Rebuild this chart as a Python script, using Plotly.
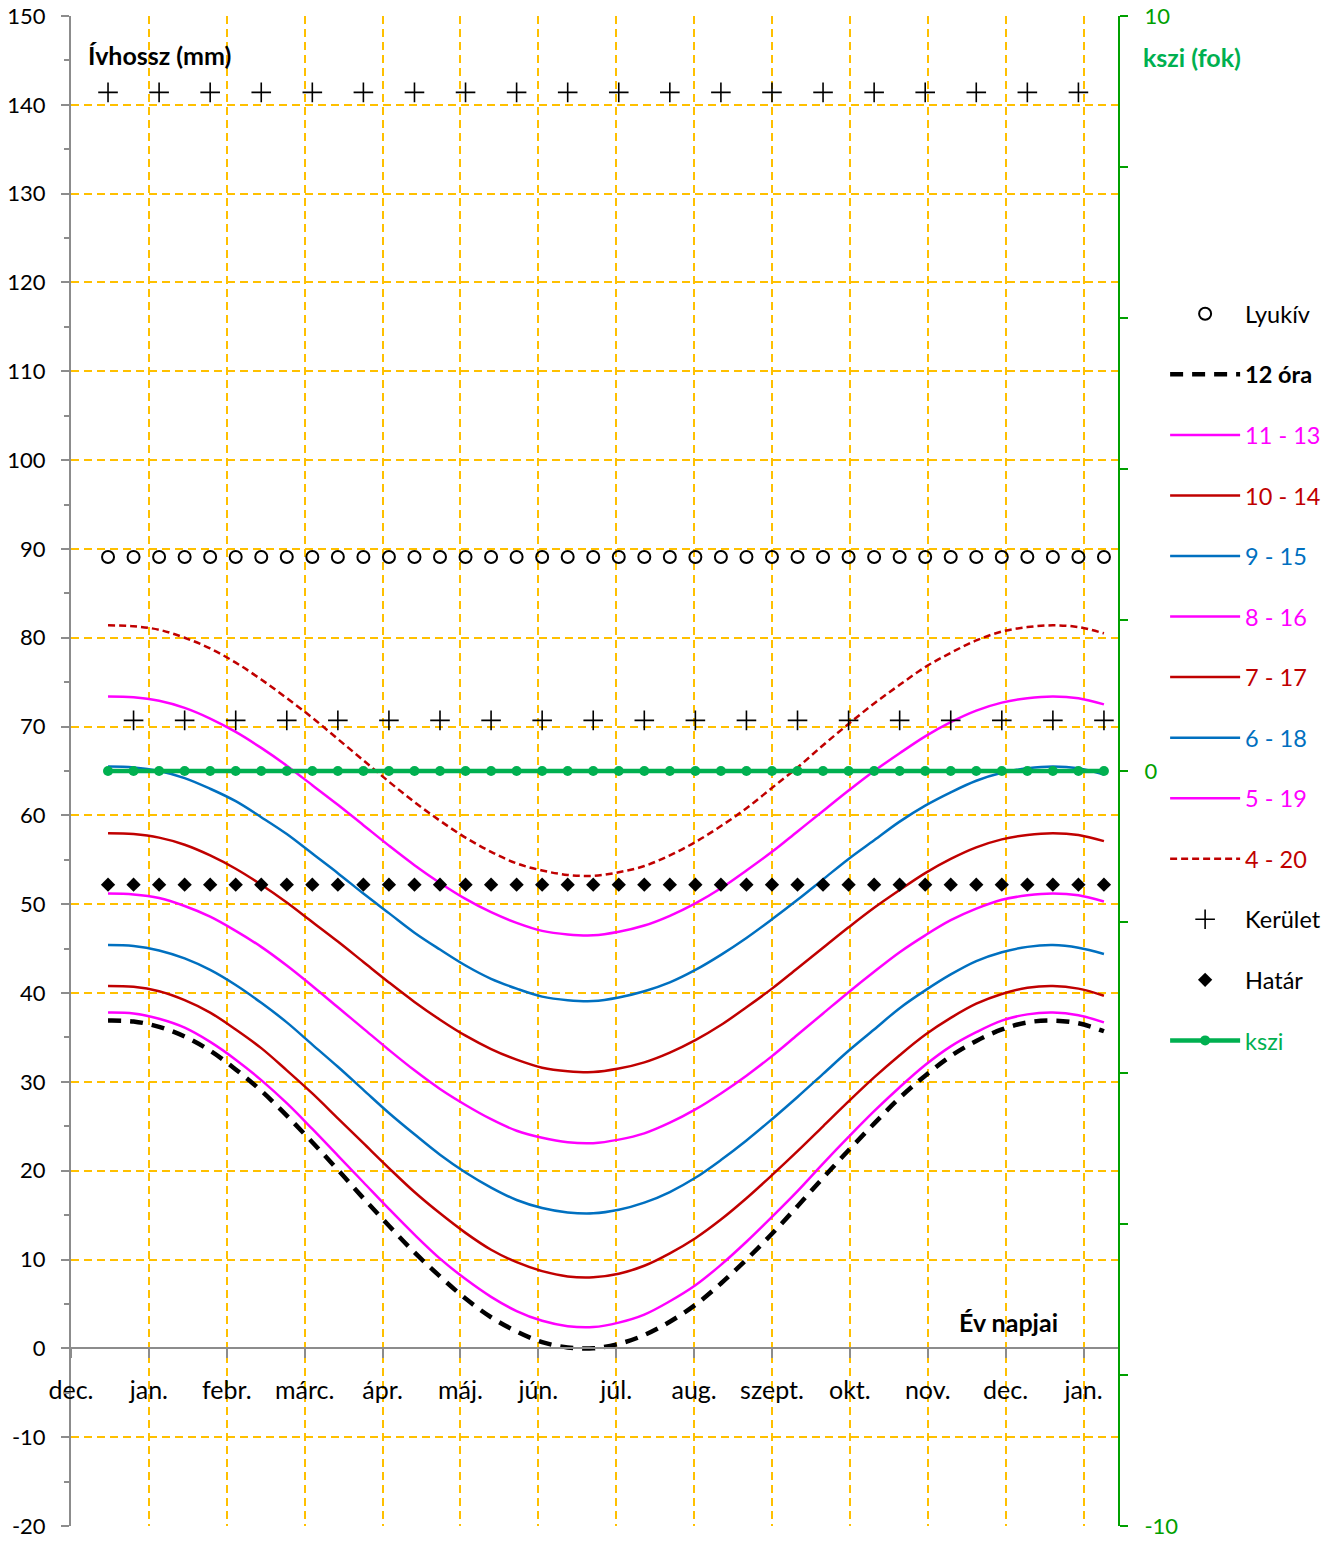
import plotly.graph_objects as go

# ---------------- data ----------------
DAYS = [-16, -6, 4, 14, 24, 34, 44, 54, 64, 74, 84, 94, 104, 114, 124, 134, 144, 154, 164, 174,
        184, 194, 204, 214, 224, 234, 244, 254, 264, 274, 284, 294, 304, 314, 324, 334, 344, 354, 364, 374]

MONTH_POS = [-30.5, 0, 30.5, 61, 91.5, 122, 152.5, 183, 213.5, 244, 274.5, 305, 335.5, 366]
MONTH_LABELS = ['dec.', 'jan.', 'febr.', 'márc.', 'ápr.', 'máj.', 'jún.', 'júl.', 'aug.',
                'szept.', 'okt.', 'nov.', 'dec.', 'jan.']

Y_TICKS = [-20, -10, 0, 10, 20, 30, 40, 50, 60, 70, 80, 90, 100, 110, 120, 130, 140, 150]
Y_LABELS = ['-20', '-10', '0', '10', '20', '30', '40', '50', '60', '70', '80', '90',
            '100', '110', '120', '130', '140', '150']

LYUKIV = [89.1, 89.1, 89.1, 89.1, 89.1, 89.1, 89.1, 89.1, 89.1, 89.1,
          89.1, 89.1, 89.1, 89.1, 89.1, 89.1, 89.1, 89.1, 89.1, 89.1,
          89.1, 89.1, 89.1, 89.1, 89.1, 89.1, 89.1, 89.1, 89.1, 89.1,
          89.1, 89.1, 89.1, 89.1, 89.1, 89.1, 89.1, 89.1, 89.1, 89.1]

ORA_12 = [36.9, 36.8, 36.2, 35.1, 33.5, 31.4, 29.0, 26.2, 23.2, 20.1,
          16.9, 13.8, 10.8, 8.1, 5.6, 3.5, 1.9, 0.7, 0.1, 0.0,
          0.5, 1.5, 3.0, 4.9, 7.3, 10.0, 12.9, 16.0, 19.2, 22.3,
          25.3, 28.2, 30.7, 32.9, 34.6, 35.9, 36.7, 36.9, 36.6, 35.7]

ORA_11_13 = [37.8, 37.7, 37.1, 36.1, 34.5, 32.5, 30.2, 27.6, 24.7, 21.7,
             18.7, 15.7, 12.8, 10.1, 7.8, 5.8, 4.2, 3.1, 2.5, 2.4,
             2.9, 3.8, 5.3, 7.1, 9.4, 12.0, 14.8, 17.7, 20.8, 23.8,
             26.7, 29.4, 31.9, 34.0, 35.6, 36.9, 37.6, 37.8, 37.5, 36.7]

ORA_10_14 = [40.8, 40.7, 40.2, 39.2, 37.8, 35.9, 33.8, 31.3, 28.7, 25.9,
             23.1, 20.3, 17.6, 15.2, 13.0, 11.1, 9.7, 8.7, 8.1, 8.0,
             8.4, 9.3, 10.7, 12.4, 14.5, 16.9, 19.5, 22.2, 25.0, 27.8,
             30.5, 33.0, 35.3, 37.2, 38.8, 39.9, 40.6, 40.8, 40.5, 39.7]

ORA_9_15 = [45.4, 45.3, 44.8, 43.9, 42.6, 40.9, 38.9, 36.7, 34.2, 31.7,
            29.1, 26.5, 24.1, 21.8, 19.8, 18.1, 16.7, 15.8, 15.3, 15.2,
            15.6, 16.4, 17.6, 19.2, 21.2, 23.4, 25.8, 28.3, 30.9, 33.5,
            35.9, 38.3, 40.3, 42.1, 43.6, 44.6, 45.2, 45.4, 45.1, 44.4]

ORA_8_16 = [51.2, 51.1, 50.7, 49.8, 48.6, 47.0, 45.2, 43.1, 40.8, 38.4,
            36.0, 33.6, 31.3, 29.2, 27.4, 25.8, 24.5, 23.7, 23.2, 23.1,
            23.5, 24.2, 25.4, 26.9, 28.7, 30.7, 32.9, 35.3, 37.7, 40.1,
            42.4, 44.6, 46.5, 48.2, 49.5, 50.5, 51.0, 51.2, 51.0, 50.3]

ORA_7_17 = [58.0, 57.9, 57.5, 56.7, 55.5, 54.0, 52.2, 50.2, 48.0, 45.8,
            43.5, 41.2, 39.0, 37.0, 35.2, 33.7, 32.5, 31.6, 31.2, 31.1,
            31.5, 32.2, 33.3, 34.7, 36.4, 38.4, 40.5, 42.8, 45.1, 47.4,
            49.6, 51.6, 53.5, 55.1, 56.4, 57.3, 57.8, 58.0, 57.8, 57.1]

ORA_6_18 = [65.5, 65.4, 65.0, 64.2, 63.0, 61.6, 59.8, 57.9, 55.7, 53.5,
            51.2, 49.0, 46.8, 44.9, 43.1, 41.6, 40.5, 39.6, 39.2, 39.1,
            39.5, 40.2, 41.2, 42.6, 44.3, 46.2, 48.3, 50.5, 52.8, 55.1,
            57.2, 59.3, 61.1, 62.6, 63.9, 64.8, 65.3, 65.5, 65.3, 64.6]

ORA_5_19 = [73.4, 73.3, 72.9, 72.1, 70.9, 69.4, 67.6, 65.6, 63.4, 61.2,
            58.9, 56.6, 54.4, 52.4, 50.6, 49.1, 47.9, 47.0, 46.6, 46.5,
            46.9, 47.6, 48.7, 50.1, 51.8, 53.8, 55.9, 58.2, 60.5, 62.8,
            65.0, 67.0, 68.9, 70.5, 71.8, 72.7, 73.2, 73.4, 73.2, 72.5]

ORA_4_20 = [81.4, 81.3, 80.9, 80.0, 78.8, 77.2, 75.3, 73.2, 71.0, 68.6,
            66.2, 63.8, 61.5, 59.4, 57.5, 55.9, 54.6, 53.8, 53.3, 53.2,
            53.6, 54.3, 55.5, 57.0, 58.8, 60.8, 63.1, 65.4, 67.9, 70.3,
            72.6, 74.7, 76.7, 78.3, 79.7, 80.7, 81.2, 81.4, 81.2, 80.5]

KERULET = [141.4, 70.7, 141.4, 70.7, 141.4, 70.7, 141.4, 70.7, 141.4, 70.7,
           141.4, 70.7, 141.4, 70.7, 141.4, 70.7, 141.4, 70.7, 141.4, 70.7,
           141.4, 70.7, 141.4, 70.7, 141.4, 70.7, 141.4, 70.7, 141.4, 70.7,
           141.4, 70.7, 141.4, 70.7, 141.4, 70.7, 141.4, 70.7, 141.4, 70.7]

HATAR = [52.2, 52.2, 52.2, 52.2, 52.2, 52.2, 52.2, 52.2, 52.2, 52.2,
         52.2, 52.2, 52.2, 52.2, 52.2, 52.2, 52.2, 52.2, 52.2, 52.2,
         52.2, 52.2, 52.2, 52.2, 52.2, 52.2, 52.2, 52.2, 52.2, 52.2,
         52.2, 52.2, 52.2, 52.2, 52.2, 52.2, 52.2, 52.2, 52.2, 52.2]

KSZI = [0, 0, 0, 0, 0, 0, 0, 0, 0, 0,
        0, 0, 0, 0, 0, 0, 0, 0, 0, 0,
        0, 0, 0, 0, 0, 0, 0, 0, 0, 0,
        0, 0, 0, 0, 0, 0, 0, 0, 0, 0]

Y2_TICKS = [-10, -8, -6, -4, -2, 0, 2, 4, 6, 8, 10]
Y2_LABELS = ['-10', '', '', '', '', '0', '', '', '', '', '10']

# ---------------- styles ----------------
MAGENTA = '#FF00FF'
DARKRED = '#C00000'
BLUE = '#0070C0'
GREEN = '#00B050'
AXGREEN = '#00A000'
GRID = '#FFC000'
AXGRAY = '#8C8C8C'
FONT = 'Lato'

TOP, BOTTOM = 16, 1526          # plot-area edges in page pixels
PH = BOTTOM - TOP


def lbl(text, color):
    return f'<span style="color:{color}">{text}</span>'


fig = go.Figure()

fig.add_trace(go.Scatter(x=DAYS, y=LYUKIV, mode='markers', name='Lyukív', legendgroup='a',
                         marker=dict(symbol='circle-open', size=12, color='black',
                                     line=dict(width=2, color='black'))))
fig.add_trace(go.Scatter(x=DAYS, y=ORA_12, mode='lines', name='<b>12 óra</b>', legendgroup='b',
                         line=dict(color='black', width=4.5, dash='13px,9px', shape='spline')))

curves = [
    ('11 - 13', ORA_11_13, MAGENTA, None),
    ('10 - 14', ORA_10_14, DARKRED, None),
    ('9 - 15', ORA_9_15, BLUE, None),
    ('8 - 16', ORA_8_16, MAGENTA, None),
    ('7 - 17', ORA_7_17, DARKRED, None),
    ('6 - 18', ORA_6_18, BLUE, None),
    ('5 - 19', ORA_5_19, MAGENTA, None),
    ('4 - 20', ORA_4_20, DARKRED, '7px,4px'),
]
for i, (name, vals, col, dash) in enumerate(curves):
    fig.add_trace(go.Scatter(x=DAYS, y=vals, mode='lines', name=lbl(name, col),
                             legendgroup=f'c{i}',
                             line=dict(color=col, width=2.5, dash=dash, shape='spline')))

fig.add_trace(go.Scatter(x=DAYS, y=KERULET, mode='markers', name='Kerület', legendgroup='k',
                         marker=dict(symbol='cross-thin', size=14, color='black',
                                     line=dict(width=1.6, color='black'))))
fig.add_trace(go.Scatter(x=DAYS, y=HATAR, mode='markers', name='Határ', legendgroup='h',
                         marker=dict(symbol='diamond', size=11, color='black')))
fig.add_trace(go.Scatter(x=DAYS, y=KSZI, mode='lines+markers', name=lbl('kszi', GREEN),
                         legendgroup='z', yaxis='y2',
                         line=dict(color=GREEN, width=4.5),
                         marker=dict(symbol='circle', size=10, color=GREEN)))

fig.update_layout(
    width=1339, height=1541,
    margin=dict(l=71, r=221, t=TOP, b=1541 - BOTTOM),
    paper_bgcolor='white', plot_bgcolor='white',
    font=dict(family=FONT, size=22, color='black'),
    showlegend=True,
    legend=dict(x=1.045, y=1 - (292 - TOP) / PH, xanchor='left', yanchor='top',
                tracegroupgap=27, itemwidth=70, bgcolor='rgba(0,0,0,0)',
                font=dict(family=FONT, size=23.5, color='black')),
    xaxis=dict(range=[-30.5, 379.5], tickmode='array', tickvals=MONTH_POS, ticktext=MONTH_LABELS,
               showgrid=True, gridcolor=GRID, gridwidth=2, griddash='8px,5px',
               anchor='free', position=20 / 170, automargin=False,
               showline=True, linecolor=AXGRAY, linewidth=2,
               ticks='outside', ticklen=9, tickwidth=2, tickcolor=AXGRAY,
               ticklabelstandoff=11, zeroline=False,
               tickfont=dict(family=FONT, size=25, color='black')),
    yaxis=dict(range=[-20, 150], tickmode='array', tickvals=Y_TICKS, ticktext=Y_LABELS,
               showgrid=True, gridcolor=GRID, gridwidth=2, griddash='8px,5px',
               showline=True, linecolor=AXGRAY, linewidth=2, automargin=False,
               ticks='outside', ticklen=8, tickwidth=2, tickcolor=AXGRAY,
               minor=dict(dtick=5, ticks='outside', ticklen=5, tickwidth=2, tickcolor=AXGRAY,
                          showgrid=False),
               ticklabelstandoff=11, zeroline=False, ticklabeloverflow='allow',
               tickfont=dict(family=FONT, size=22, color='black')),
    yaxis2=dict(range=[-10, 10], overlaying='y', side='right', anchor='x',
                tickmode='array', tickvals=Y2_TICKS, ticktext=Y2_LABELS,
                showgrid=False, zeroline=False, automargin=False,
                showline=True, linecolor=AXGREEN, linewidth=2,
                ticks='outside', ticklen=8, tickwidth=2, tickcolor=AXGREEN,
                ticklabelstandoff=12, ticklabeloverflow='allow',
                tickfont=dict(family=FONT, size=22, color=AXGREEN)),
)

fig.add_annotation(text='<b>Ívhossz (mm)</b>', xref='paper', yref='paper',
                   x=(86 - 71) / 1047, y=(BOTTOM - 55) / PH, xanchor='left', yanchor='middle',
                   showarrow=False, font=dict(family=FONT, size=25, color='black'))
fig.add_annotation(text='<b>kszi (fok)</b>', xref='paper', yref='paper',
                   x=(1141 - 71) / 1047, y=(BOTTOM - 57) / PH, xanchor='left', yanchor='middle',
                   showarrow=False, font=dict(family=FONT, size=25, color=GREEN))
fig.add_annotation(text='<b>Év napjai</b>', xref='paper', yref='paper',
                   x=(957 - 71) / 1047, y=(BOTTOM - 1322) / PH, xanchor='left', yanchor='middle',
                   showarrow=False, font=dict(family=FONT, size=25, color='black'))

fig.write_html('out.html', config={'displayModeBar': False},
               post_script="document.body.style.margin='0';document.body.style.overflow='hidden';")
